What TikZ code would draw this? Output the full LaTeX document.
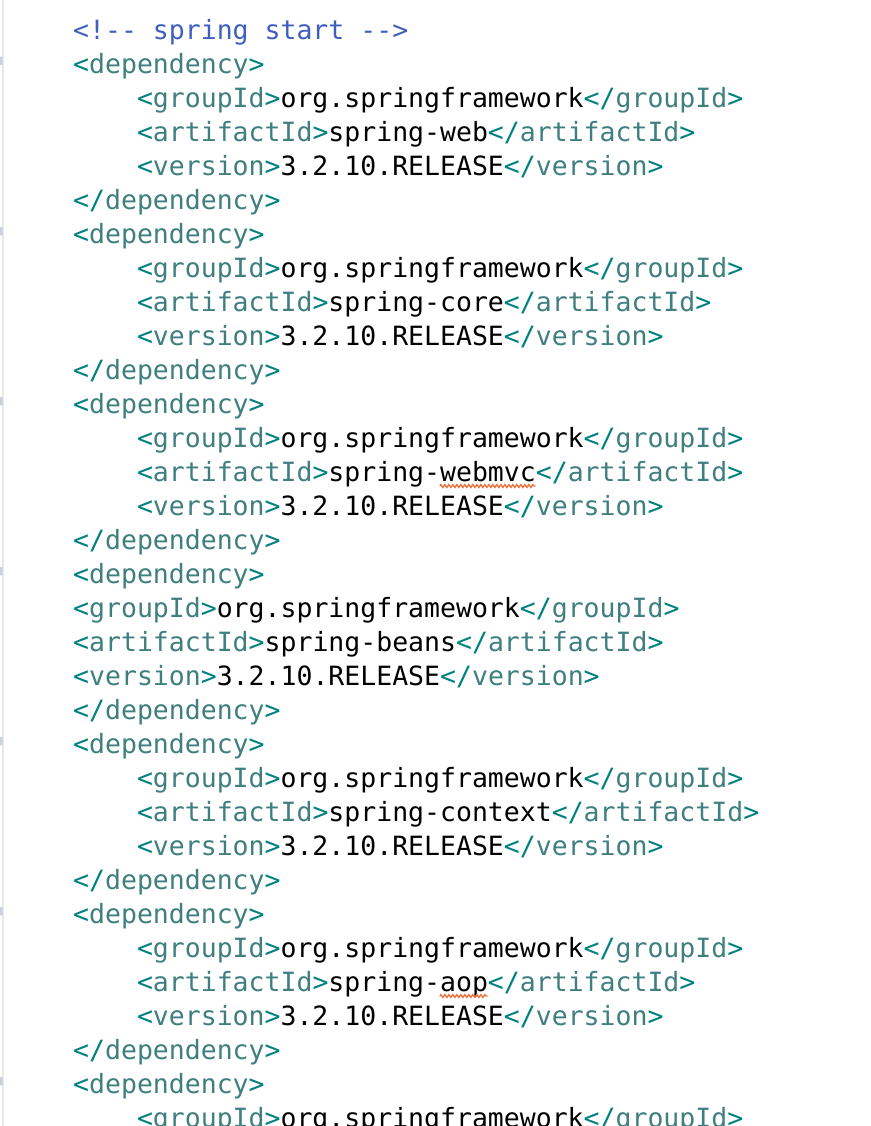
\documentclass[tikz,border=0pt]{standalone}
\usepackage{fontspec}
\setmonofont{DejaVu Sans Mono}
\usetikzlibrary{decorations.pathmorphing}

\definecolor{tagbracket}{HTML}{008080}
\definecolor{tagname}{HTML}{3F7F7F}
\definecolor{comment}{HTML}{3F5FBF}
\definecolor{squiggle}{HTML}{E8743B}
\definecolor{gutter}{HTML}{E8E8E8}
\definecolor{foldmark}{HTML}{C9D1DD}

\newcommand{\otag}[1]{\textcolor{tagbracket}{<}\textcolor{tagname}{#1}\textcolor{tagbracket}{>}}
\newcommand{\ctag}[1]{\textcolor{tagbracket}{</}\textcolor{tagname}{#1}\textcolor{tagbracket}{>}}
\newcommand{\elem}[2]{\otag{#1}#2\ctag{#1}}

\begin{document}
\begin{tikzpicture}[x = 1pt, y = -1pt,
	code/.style = {anchor = base west, inner sep = 0, font = \ttfamily\fontsize{26.5}{34}\selectfont},
	squiggly/.style = {draw = squiggle, line width = 1.4pt, decorate, decoration = {zigzag, segment length = 4pt, amplitude = 1.4pt}}]

	% Definition
	
	\def\X{73}		% Left edge of column 0
	\def\Y{39.5}	% Baseline of first line
	\def\W{15.95}	% Character width
	\def\H{34}		% Line height
	
	% Frame + gutter
	
	\useasboundingbox (0, 0) rectangle (870, 1126);
	\clip (0, 0) rectangle (870, 1126);
	\fill [white] (0, 0) rectangle (870, 1126);
	\draw [gutter, line width = 2pt] (3, 0) -- (3, 1126);
	
	% Comment
	
	\node [code, text = comment] (start) at (\X, \Y) {<!-{}- spring start -{}->};
	
	% Dependency blocks
	
	\foreach \k/\art/\ind/\sq in {0/web/4/0, 1/core/4/0, 2/webmvc/4/6, 3/beans/0/0, 4/context/4/0, 5/aop/4/3}
	{
		\pgfmathsetmacro\yy{\Y + (1 + 5 * \k) * \H}
		\pgfmathsetmacro\xx{\X + \ind * \W}
		
		% Fold marker
		
		\fill [foldmark, rounded corners = 1pt] (0, {\yy - 17}) rectangle (2.5, {\yy - 8});
		
		% Lines
		
		\node [code] (open\k) at (\X, \yy) {\otag{dependency}};
		\node [code] (group\k) at (\xx, {\yy + \H}) {\elem{groupId}{org.springframework}};
		\node [code] (art\k) at (\xx, {\yy + 2 * \H}) {\elem{artifactId}{spring-\art}};
		\node [code] (ver\k) at (\xx, {\yy + 3 * \H}) {\elem{version}{3.2.10.RELEASE}};
		\node [code] (close\k) at (\X, {\yy + 4 * \H}) {\ctag{dependency}};
		
		% Spell check underline
		
		\ifnum\sq>0
			\draw [squiggly] ({\xx + 19 * \W}, {\yy + 2 * \H + 4.5}) -- ++ ({\sq * \W}, 0);
		\fi
	}
	
	% Last block, cut off
	
	\fill [foldmark, rounded corners = 1pt] (0, {\Y + 31 * \H - 17}) rectangle (2.5, {\Y + 31 * \H - 8});
	\node [code] (open6) at (\X, {\Y + 31 * \H}) {\otag{dependency}};
	\node [code] (group6) at ({\X + 4 * \W}, {\Y + 32 * \H}) {\elem{groupId}{org.springframework}};

\end{tikzpicture}
\end{document}
